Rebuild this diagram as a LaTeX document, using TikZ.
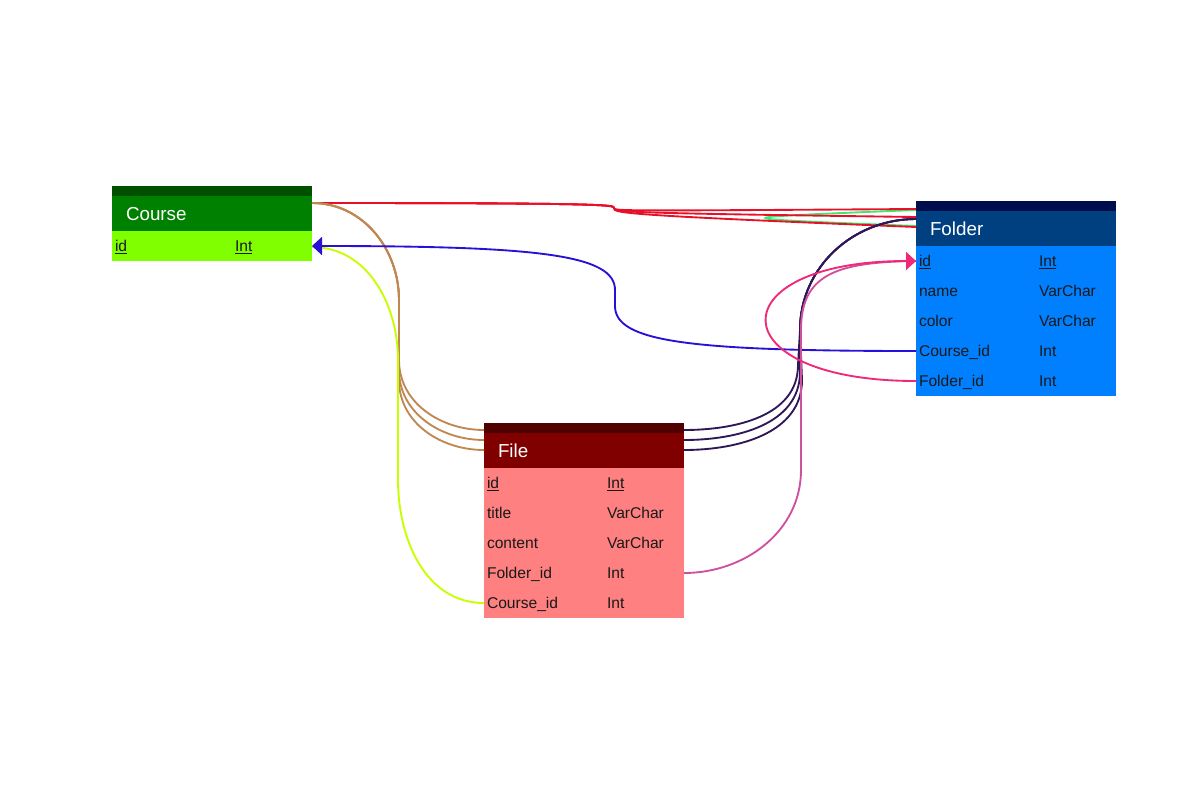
\documentclass[tikz,border=0pt]{standalone}
\usepackage{fontspec}
\setmainfont{Liberation Sans}
\usetikzlibrary{positioning,calc,arrows.meta}

\definecolor{coursetop}{RGB}{0,80,0}
\definecolor{coursehead}{RGB}{0,128,0}
\definecolor{courserow}{RGB}{128,255,0}
\definecolor{foldertop}{RGB}{0,13,77}
\definecolor{folderhead}{RGB}{0,64,128}
\definecolor{folderrow}{RGB}{0,128,255}
\definecolor{filetop}{RGB}{80,0,0}
\definecolor{filehead}{RGB}{128,0,0}
\definecolor{filerow}{RGB}{255,128,128}
\definecolor{linkred}{RGB}{232,16,40}
\definecolor{linkgreen}{RGB}{64,232,112}
\definecolor{linkbrown}{RGB}{192,136,80}
\definecolor{linkblue}{RGB}{40,16,216}
\definecolor{linklime}{RGB}{200,255,0}
\definecolor{linkpurple}{RGB}{48,24,88}
\definecolor{linkmagenta}{RGB}{208,80,160}
\definecolor{linkpink}{RGB}{240,40,120}

\newcommand{\field}[2]{\makebox[90pt][l]{#1}#2}

\tikzset{
	tbltop/.style={rectangle, anchor=north west, minimum width=150pt, minimum height=7.5pt, inner sep=0pt, outer sep=0pt},
	tblhead/.style={rectangle, minimum width=150pt, minimum height=26.25pt, inner xsep=10.5pt, inner ysep=0pt, outer sep=0pt,
		text width=129pt, align=left, text=white, font=\fontsize{14.1pt}{17pt}\selectfont, text height=10.1pt, text depth=0pt},
	tblrow/.style={rectangle, minimum width=150pt, minimum height=22.5pt, inner xsep=2.25pt, inner ysep=0pt, outer sep=0pt,
		text width=145.5pt, align=left, text=black!90, font=\fontsize{11.7pt}{14pt}\selectfont, text height=8.4pt, text depth=0pt},
	link/.style={line width=1.4pt},
	fk/.style={-{Triangle[length=7.5pt,width=13.5pt]}},
}

\begin{document}
\begin{tikzpicture}[x=0.75pt,y=-0.75pt]
			\useasboundingbox (0,0) rectangle (1200,800);

			% Course
			\node[tbltop, fill=coursetop] (course-top) at (112,186) {};
			\node[tblhead, fill=coursehead, below=0pt of course-top] (course-head) {Course};
			\node[tblrow, fill=courserow, below=0pt of course-head] (course-id) {\field{\underline{id}}{\underline{Int}}};

			% Folder
			\node[tbltop, fill=foldertop] (folder-top) at (916,201) {};
			\node[tblhead, fill=folderhead, below=0pt of folder-top] (folder-head) {Folder};
			\node[tblrow, fill=folderrow, below=0pt of folder-head] (folder-id) {\field{\underline{id}}{\underline{Int}}};
			\node[tblrow, fill=folderrow, below=0pt of folder-id] (folder-name) {\field{name}{VarChar}};
			\node[tblrow, fill=folderrow, below=0pt of folder-name] (folder-color) {\field{color}{VarChar}};
			\node[tblrow, fill=folderrow, below=0pt of folder-color] (folder-course) {\field{Course\_id}{Int}};
			\node[tblrow, fill=folderrow, below=0pt of folder-course] (folder-folder) {\field{Folder\_id}{Int}};

			% File
			\node[tbltop, fill=filetop] (file-top) at (484,423) {};
			\node[tblhead, fill=filehead, below=0pt of file-top] (file-head) {File};
			\node[tblrow, fill=filerow, below=0pt of file-head] (file-id) {\field{\underline{id}}{\underline{Int}}};
			\node[tblrow, fill=filerow, below=0pt of file-id] (file-title) {\field{title}{VarChar}};
			\node[tblrow, fill=filerow, below=0pt of file-title] (file-content) {\field{content}{VarChar}};
			\node[tblrow, fill=filerow, below=0pt of file-content] (file-folder) {\field{Folder\_id}{Int}};
			\node[tblrow, fill=filerow, below=0pt of file-folder] (file-course) {\field{Course\_id}{Int}};

			% Course -- Folder
			\draw[link, linkgreen] ($(folder-head.north west)+(0,-1)$) .. controls (715,218) and (715,218) .. ($(folder-head.north west)+(0,15)$);
			\draw[link, linkred] ($(course-head.north east)+(0,7)$) .. controls (612,203) and (614,205) .. (614,208)
				.. controls (614,211) and (618,211) .. ($(folder-head.north west)+(0,-2)$);
			\draw[link, linkred] ($(course-head.north east)+(0,7)$) .. controls (612,203) and (614,205) .. (614,208)
				.. controls (614,212) and (618,213) .. ($(folder-head.north west)+(0,6)$);
			\draw[link, linkred] ($(course-head.north east)+(0,7)$) .. controls (612,203) and (614,205) .. (614,208)
				.. controls (614,213) and (618,215) .. ($(folder-head.north west)+(0,16)$);

			% Course -- File
			\draw[link, linkbrown] ($(course-head.north east)+(0,7)$) to[out=0,in=90] (399,300) -- (399,360)
				to[out=-90,in=180] ($(file-head.north west)+(0,-3)$);
			\draw[link, linkbrown] ($(course-head.north east)+(0,7)$) to[out=0,in=90] (399,300) -- (399,370)
				to[out=-90,in=180] ($(file-head.north west)+(0,7)$);
			\draw[link, linkbrown] ($(course-head.north east)+(0,7)$) to[out=0,in=90] (399,300) -- (399,380)
				to[out=-90,in=180] ($(file-head.north west)+(0,17)$);
			\draw[link, linklime] (file-course.west) to[out=180,in=-90] (398,480) -- (398,360) to[out=90,in=0] ($(course-id.east)+(0,1)$);

			% Folder.Course_id -> Course.id
			\draw[link, linkblue, fk] (folder-course.west) .. controls (690,351) and (615,342) .. (615,306) -- (615,290)
				.. controls (615,255) and (540,246) .. (course-id.east);

			% File -- Folder
			\draw[link, linkpurple] ($(file-head.north east)+(0,-3)$) to[out=0,in=-90] (798,365) -- (800,330)
				to[out=90,in=180] ($(folder-head.north west)+(0,8)$);
			\draw[link, linkpurple] ($(file-head.north east)+(0,7)$) to[out=0,in=-90] (800,372) -- (800,330)
				to[out=90,in=180] ($(folder-head.north west)+(0,8)$);
			\draw[link, linkpurple] ($(file-head.north east)+(0,17)$) to[out=0,in=-90] (802,380) -- (800,330)
				to[out=90,in=180] ($(folder-head.north west)+(0,8)$);
			\draw[link, linkmagenta] (file-folder.east) to[out=0,in=-90] (801,470) -- (801,330)
				.. controls (801,275) and (835,262) .. (folder-id.west);

			% Folder.Folder_id -> Folder.id
			\draw[link, linkpink, fk] (folder-folder.west) .. controls (717,381) and (717,261) .. (folder-id.west);

		\end{tikzpicture}
\end{document}
